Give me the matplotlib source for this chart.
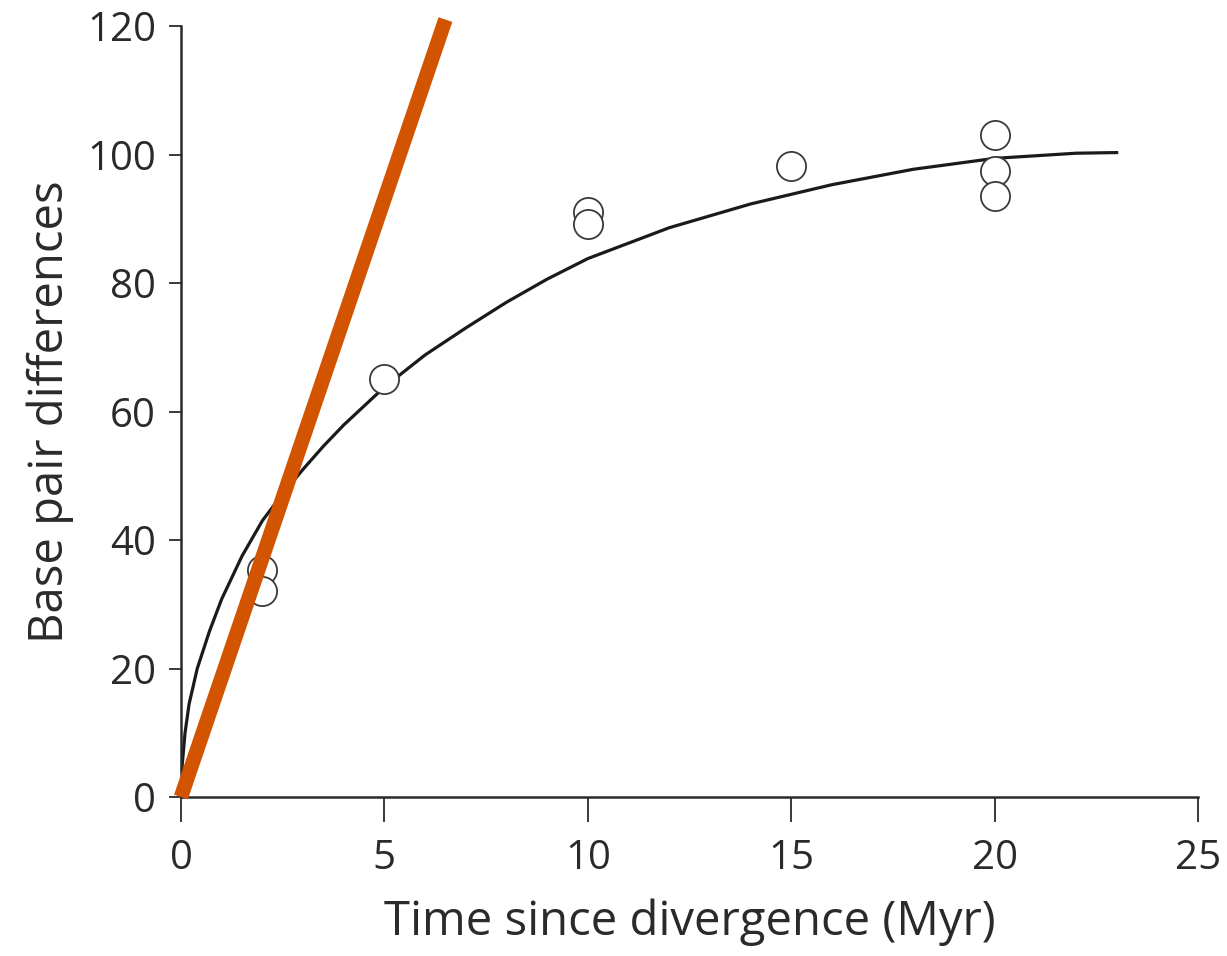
import matplotlib
matplotlib.use("Agg")
import matplotlib.pyplot as plt

# observed points (Myr, bp differences)
obs_time = [2, 2, 5, 10, 10, 15, 20, 20, 20]
obs_diff = [35.3, 32.0, 65.0, 91.0, 89.2, 98.2, 103.0, 97.5, 93.6]

# fitted saturation curve
fit_time = [0, 0.03, 0.1, 0.2, 0.4, 0.7, 1.0, 1.5, 2, 2.5, 3, 3.5, 4, 5, 6,
            7, 8, 9, 10, 12, 14, 16, 18, 20, 22, 23]
fit_diff = [0, 5, 10, 14.5, 20, 25.8, 30.8, 37.5, 43, 47.2, 51, 54.6, 57.9, 63.8, 68.8,
            73, 77, 80.6, 83.8, 88.6, 92.3, 95.3, 97.7, 99.4, 100.2, 100.3]

# linear (no saturation) expectation
lin_time = [0, 6.5]
lin_diff = [0, 121]

plt.rcParams["font.family"] = ["Open Sans", "DejaVu Sans"]

fig = plt.figure(figsize=(12.27, 9.56), dpi=100)
ax = fig.add_axes([0.1475, 0.1663, 0.8289, 0.8065])

ax.plot(fit_time, fit_diff, color="#1a1a1a", lw=2.3, zorder=2)
ax.plot(obs_time, obs_diff, "o", ms=21, mfc="white", mec="#3a3a3a", mew=1.3,
        zorder=3, clip_on=False)
ax.plot(lin_time, lin_diff, color="#D35400", lw=10.5, solid_capstyle="butt",
        zorder=4, clip_on=False)

ax.set_xlim(0, 25)
ax.set_ylim(0, 120)
ax.set_xticks([0, 5, 10, 15, 20, 25])
ax.set_yticks([0, 20, 40, 60, 80, 100, 120])

for s in ("top", "right"):
    ax.spines[s].set_visible(False)
for s in ("left", "bottom"):
    ax.spines[s].set_linewidth(1.8)
    ax.spines[s].set_color("#2a2a2a")

ax.tick_params(axis="x", length=18, width=1.3, pad=12, labelsize=29,
               colors="#2a2a2a")
ax.tick_params(axis="y", length=9, width=1.3, pad=9, labelsize=29,
               colors="#2a2a2a")

ax.set_xlabel("Time since divergence (Myr)", fontsize=34, color="#2a2a2a",
              labelpad=14)
ax.set_ylabel("Base pair differences", fontsize=34, color="#2a2a2a",
              labelpad=9)

fig.savefig("out.png", dpi=100, facecolor="white")
